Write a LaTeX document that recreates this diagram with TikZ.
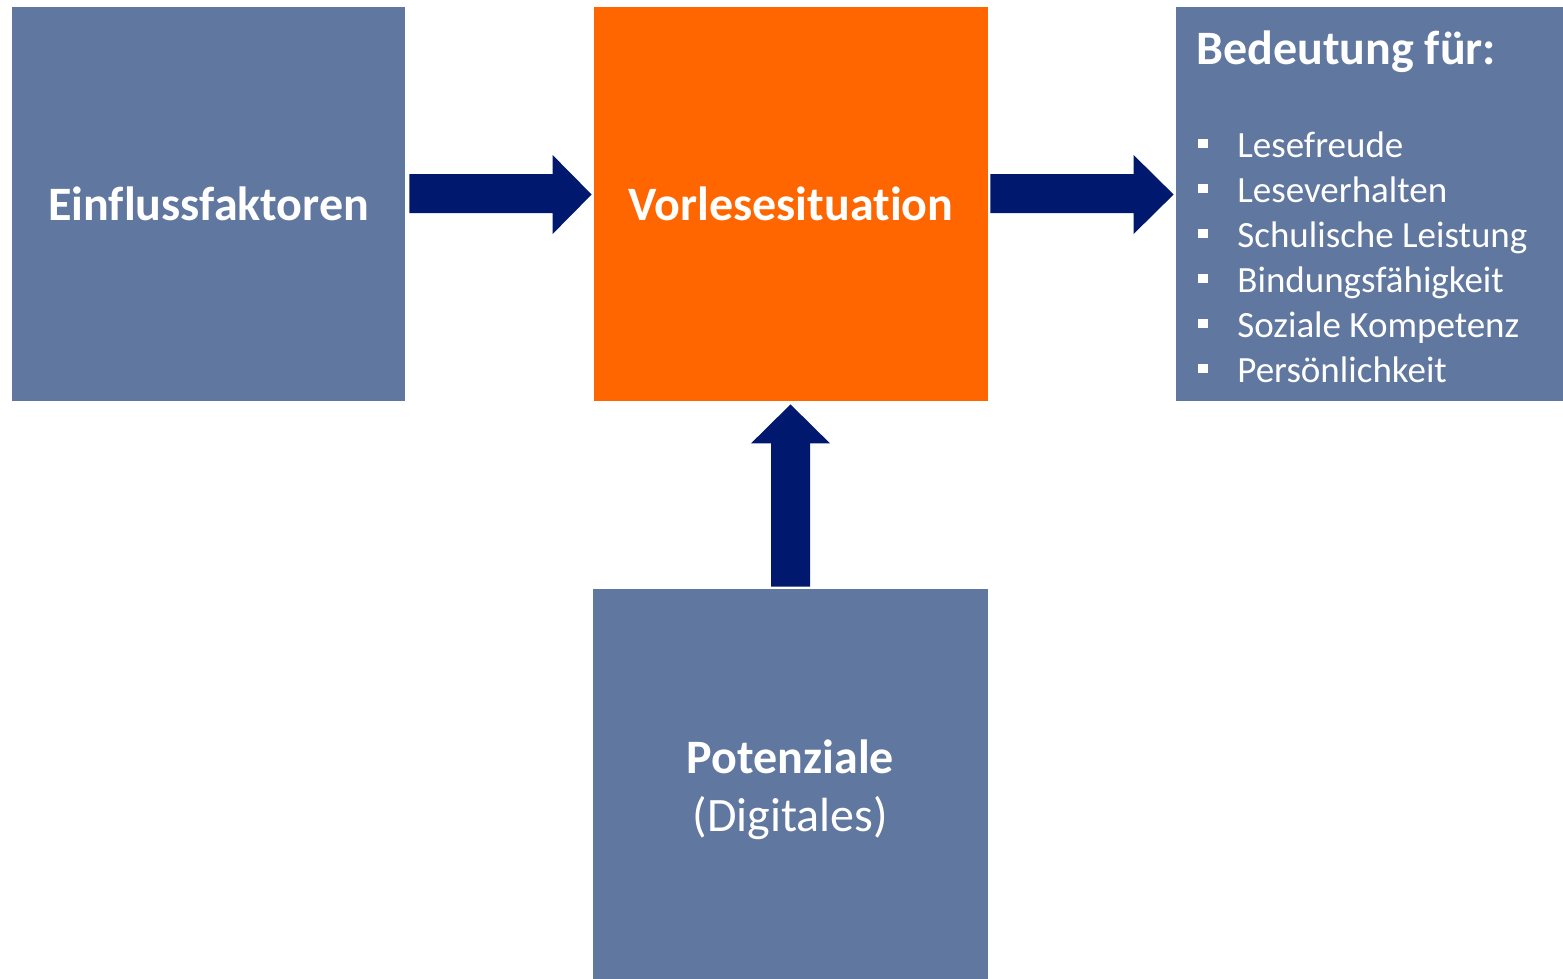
\documentclass[tikz,border=0pt]{standalone}
\usepackage{fontspec}
\setmainfont{Carlito}[Ligatures=CommonOff]
\usetikzlibrary{calc}
\definecolor{boxblue}{HTML}{6077A0}
\definecolor{vorlorange}{HTML}{FF6600}
\definecolor{arrownavy}{HTML}{00186E}

\begin{document}
\begin{tikzpicture}[x=0.5pt,y=-0.5pt,
  box/.style={fill=boxblue, text=white, inner sep=0pt, minimum width=196.5pt, minimum height=197pt, font=\bfseries\fontsize{24}{29}\selectfont},
  arrow/.style={fill=arrownavy},
  listitem/.style={text=white, inner sep=0pt, anchor=base west, font=\fontsize{18.5}{22}\selectfont}]
\useasboundingbox (0,0) rectangle (1563,979);

% Kaesten
\node[box] (einfl) at (208.5,204) {Einflussfaktoren};
\node[box, fill=vorlorange, minimum width=197pt] (vorl) at (791,204) {Vorlesesituation};
\node[box, minimum width=193.5pt] (bedeut) at (1369.5,204) {};
\node[box, minimum width=197.5pt, minimum height=195pt] (potenz) at (790.5,784) {};
\node[text=white, align=center, font=\bfseries\fontsize{24}{29}\selectfont] (potenztext) at (790.5,790) {Potenziale\\{\mdseries (Digitales)}};

% Bedeutung fuer
\node[listitem, font=\bfseries\fontsize{24}{29}\selectfont] (titel) at (1196,65) {Bedeutung für:};
\foreach \t [count=\i] in {Lesefreude, Leseverhalten, Schulische Leistung, Bindungsfähigkeit, Soziale Kompetenz, Persönlichkeit}{
  \node[listitem] (item\i) at (1237,{112+45*\i}) {\t};
  \fill[white] (1198,{112+45*\i-18}) rectangle ++(10,9);
}

% Pfeile
\fill[arrow] ($(einfl.east)+(4,-30)$) -- ($(vorl.west)+(-41,-30)$) -- ($(vorl.west)+(-41,-49)$)
  -- ($(vorl.west)+(-2,-9.5)$) -- ($(vorl.west)+(-41,30)$) -- ($(vorl.west)+(-41,9)$)
  -- ($(einfl.east)+(4,9)$) -- cycle;
\fill[arrow] ($(vorl.east)+(2,-30)$) -- ($(bedeut.west)+(-42,-30)$) -- ($(bedeut.west)+(-42,-49)$)
  -- ($(bedeut.west)+(-2,-9.5)$) -- ($(bedeut.west)+(-42,30)$) -- ($(bedeut.west)+(-42,9)$)
  -- ($(vorl.east)+(2,9)$) -- cycle;
\fill[arrow] ($(potenz.north)+(-19.5,-2)$) -- ($(vorl.south)+(-20,42)$) -- ($(vorl.south)+(-40,42)$)
  -- ($(vorl.south)+(-0.5,3)$) -- ($(vorl.south)+(39,42)$) -- ($(vorl.south)+(19,42)$)
  -- ($(potenz.north)+(19.5,-2)$) -- cycle;
\end{tikzpicture}
\end{document}
